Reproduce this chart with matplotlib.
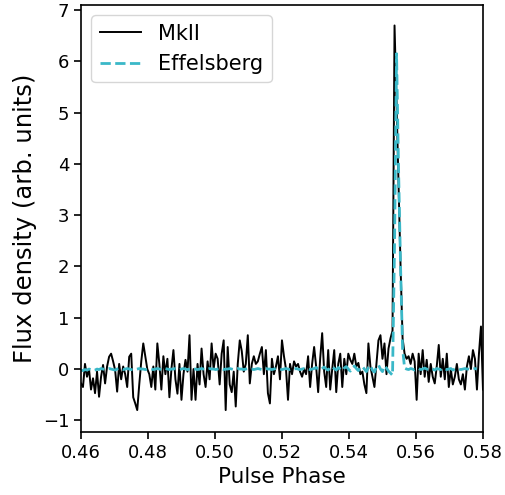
import numpy as np
import matplotlib
matplotlib.use('Agg')
import matplotlib.pyplot as plt

# phase bins (uniform, 0.0006 wide)
phase = np.linspace(0.46, 0.58, 201)

# MkII profile
mk2 = [
    -0.28, -0.35, 0.1, -0.15, 0.0, -0.4, -0.18, -0.47, -0.05, -0.54,
    -0.15, 0.08, -0.28, 0.05, 0.24, 0.3, 0.15, -0.02, -0.44, 0.1,
    -0.2, 0.05, -0.1, -0.35, 0.24, 0.3, -0.55, -0.67, -0.8, -0.3,
    0.15, 0.5, 0.25, 0.0,
    -0.1, -0.35, 0.05, -0.4, 0.5, 0.1, -0.4, 0.25, -0.1, 0.2,
    -0.55, 0.0, 0.37, -0.2, -0.48, 0.1, -0.6, -0.1, 0.18, -0.05,
    0.66, -0.6, 0.0, -0.6, 0.1, -0.3, 0.4, -0.1, -0.35, 0.15,
    -0.2, 0.5, 0.0, 0.3,
    0.2, -0.3, 0.3, 0.56, -0.8, 0.43, -0.3, -0.45, -0.05, -0.73,
    0.1, 0.56, 0.35, -0.05, 0.1, 0.66, -0.28, 0.1, 0.25, 0.1,
    0.15, 0.3, 0.43, -0.1, 0.37, -0.47, -0.67, 0.2, -0.1, 0.05,
    0.25, -0.2, 0.56,
    0.25, 0.0, -0.6, 0.1, -0.1, 0.15, 0.05, 0.1, -0.05, -0.15,
    0.0, -0.1, 0.25, -0.35, 0.1, 0.43, 0.05, -0.45, 0.2, 0.7,
    -0.05, -0.35, 0.37, -0.4, 0.0, 0.37, -0.45, 0.1, 0.3, -0.35,
    0.2, -0.1, 0.3,
    0.18, 0.1, 0.3, 0.05, 0.12, -0.1, -0.05, -0.3, -0.47, 0.5,
    0.05, -0.15, -0.35, 0.1, 0.56, 0.66, 0.2, 0.5, -0.1, 0.4,
    0.6, 0.75, 6.7, 5.2, 3.6, 2.0, 0.6, 0.3, 0.2, 0.25,
    0.1, 0.3, 0.15, -0.6,
    0.3, -0.1, 0.37, -0.15, 0.18, -0.25, 0.1, -0.15, -0.28, 0.05,
    0.47, -0.15, 0.2, -0.2, 0.3, -0.35, 0.0, -0.3, -0.15, 0.1,
    -0.2, -0.3, -0.1, -0.4, 0.05, 0.25, 0.0, 0.37, 0.2, -0.4,
    0.3, 0.83, -0.4,
]

# Effelsberg profile (same bins, stops a little before the edge)
eff = [
    -0.02, -0.03, -0.01, -0.02, 0.0, -0.01, -0.03, -0.02, 0.0, -0.01,
    0.01, 0.0, -0.01, 0.0, 0.01, 0.0, -0.01, -0.02, 0.0, 0.01,
    0.0, -0.01, 0.0, 0.01, 0.0, -0.01, -0.02, -0.01, 0.0, 0.01,
    0.0, 0.0, -0.01, 0.0, 0.01, 0.0, -0.01, 0.0, 0.01, 0.0,
    -0.01, 0.0, 0.01, 0.0, -0.01, 0.0, 0.0, 0.01, 0.0, -0.01,
    0.0, 0.01, 0.0, -0.01, 0.0, 0.01, 0.0, 0.0, -0.01, 0.0,
    0.01, 0.0, -0.01, 0.0, 0.01, 0.0, 0.0, -0.01, 0.0, 0.01,
    0.0, -0.01, 0.0, 0.0, 0.01, 0.0, -0.01, 0.0, 0.01, 0.0,
    0.0, -0.01, 0.0, 0.01, 0.0, 0.0, -0.01, 0.0, 0.01, 0.0,
    -0.01, 0.0, 0.01, 0.0, 0.0, -0.01, 0.0, 0.01, 0.0, 0.0,
    -0.01, 0.0, 0.01, 0.0, -0.01, 0.0, 0.0, 0.01, 0.0, -0.01,
    0.0, 0.01, 0.0, 0.0, -0.01, 0.0, 0.01, 0.03, 0.0, -0.02,
    0.01, 0.04, 0.0, -0.02, 0.03, 0.05, 0.01, -0.02, 0.03, 0.0,
    -0.03, 0.02, 0.05, 0.0, -0.04, 0.02, 0.06, 0.01, -0.03, 0.02,
    0.05, 0.0, -0.05, 0.03, 0.07, -0.02, -0.06, 0.04, 0.08, 0.0,
    -0.05, 0.06, 0.02, -0.04, -0.08, -0.12, 2.4, 6.15, 3.9, 2.0,
    0.4, 0.02,
    0.0, -0.01, 0.01, 0.0, -0.02, 0.0, 0.01, -0.01, 0.0, 0.02,
    0.0, -0.01, 0.01, 0.0, -0.02, 0.01, 0.0, -0.01, 0.02, 0.0,
    -0.01, 0.0, 0.01, -0.02, 0.0, 0.01, 0.0, -0.01, 0.0, 0.01,
    0.0, 0.0, -0.01, 0.0, 0.01, 0.0,
]

fig = plt.figure(figsize=(5.06, 4.95), dpi=100)
ax = fig.add_axes([0.16, 0.127, 0.7945, 0.863])
ax.plot(phase[:len(mk2)], mk2, color='black', lw=1.4, label='MkII')
ax.plot(phase[:len(eff)], eff, color='#3ab8c8', lw=2.0, ls='--', label='Effelsberg')

ax.set_xlim(0.46, 0.58)
ax.set_ylim(-1.23, 7.1)
ax.set_xticks([0.46, 0.48, 0.50, 0.52, 0.54, 0.56, 0.58])
ax.set_yticks(range(-1, 8))
ax.tick_params(labelsize=13, length=5, width=1.2)
for s in ax.spines.values():
    s.set_linewidth(1.2)
ax.set_xlabel('Pulse Phase', fontsize=15.5)
ax.set_ylabel('Flux density (arb. units)', fontsize=17.5)
ax.legend(loc='upper left', fontsize=15)

fig.savefig('out.png', dpi=100)
